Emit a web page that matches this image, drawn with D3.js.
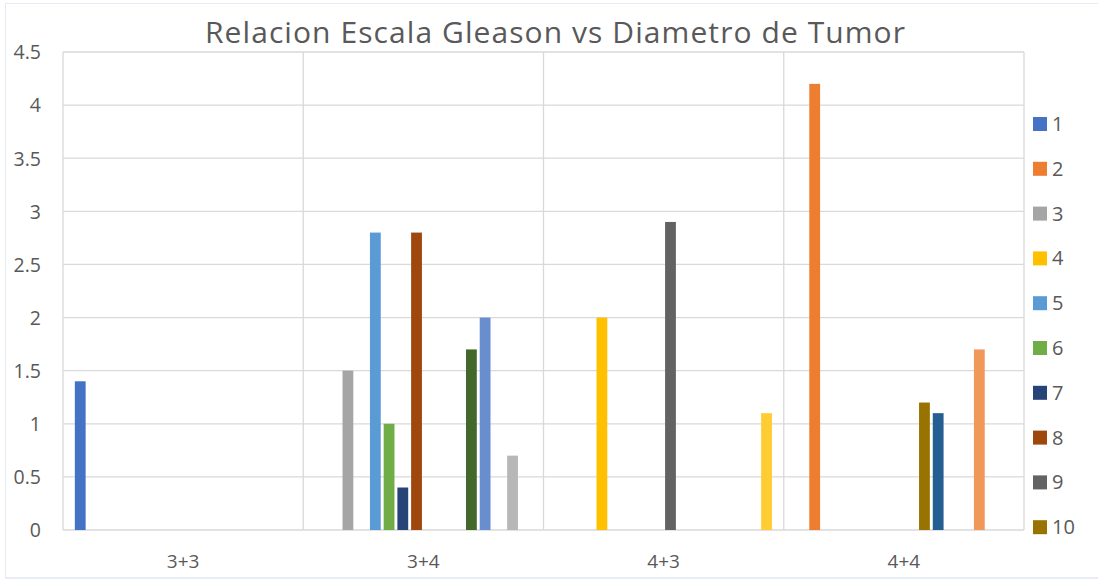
<!DOCTYPE html>
<html>
<head>
<meta charset="utf-8">
<script src="https://cdn.jsdelivr.net/npm/d3@7"></script>
<style>
  html, body { margin: 0; padding: 0; background: #fff; }
  svg { display: block; font-family: "Open Sans", "Noto Sans", sans-serif; }
</style>
</head>
<body>
<svg id="chart" width="1098" height="579"></svg>
<script>
// Gleason score groups on the x axis
const categories = ["3+3", "3+4", "4+3", "4+4"];
// One series per patient (legend entries 1..16)
const seriesNames = ["1","2","3","4","5","6","7","8","9","10","11","12","13","14","15","16"];
// Tumour diameter per series, one array per Gleason group (null = no bar)
const values33 = [1.4, null, null, null, null, null, null, null, null, null, null, null, null, null, null, null];
const values34 = [null, null, 1.5, null, 2.8, 1.0, 0.4, 2.8, null, null, null, 1.7, 2.0, null, 0.7, null];
const values43 = [null, null, null, 2.0, null, null, null, null, 2.9, null, null, null, null, null, null, 1.1];
const values44 = [null, 4.2, null, null, null, null, null, null, null, 1.2, 1.1, null, null, 1.7, null, null];
const yTicks = [0, 0.5, 1, 1.5, 2, 2.5, 3, 3.5, 4, 4.5];
const seriesColors = ["#4472C4","#ED7D31","#A5A5A5","#FFC000","#5B9BD5","#70AD47","#264478","#9E480E",
                      "#636363","#997300","#255E91","#43682B","#698ED0","#F1975A","#B7B7B7","#FFCD33"];

const valuesByCategory = [values33, values34, values43, values44];

const svg = d3.select("#chart");
const W = 1098, H = 579;
const plot = { left: 63, right: 1024, top: 52, bottom: 530 };

// chart frame
svg.append("rect")
  .attr("x", 5.5).attr("y", 3.5).attr("width", W - 5).attr("height", 574.5)
  .attr("fill", "#fff").attr("stroke", "#E6EBF4").attr("stroke-width", 1);
svg.append("line")
  .attr("x1", 5.5).attr("x2", W).attr("y1", 578).attr("y2", 578)
  .attr("stroke", "#DCE3F1").attr("stroke-width", 1.2);

const x0 = d3.scaleBand().domain(categories).range([plot.left, plot.right]).padding(0);
// clustered layout: gap width 219%, overlap -27%
const x1 = d3.scaleBand().domain(seriesNames).range([0, x0.bandwidth()])
  .paddingInner(0.27 / 1.27).paddingOuter(1.095 / 1.27);
const y = d3.scaleLinear().domain([0, 4.5]).range([plot.bottom, plot.top]);

// horizontal gridlines
svg.append("g").selectAll("line").data(yTicks).join("line")
  .attr("x1", plot.left).attr("x2", plot.right)
  .attr("y1", d => y(d)).attr("y2", d => y(d))
  .attr("stroke", "#D9D9D9").attr("stroke-width", 1.3);

// vertical gridlines at category boundaries
const bounds = categories.map(c => x0(c)).concat([plot.right]);
svg.append("g").selectAll("line").data(bounds).join("line")
  .attr("x1", d => d).attr("x2", d => d)
  .attr("y1", plot.top).attr("y2", plot.bottom)
  .attr("stroke", "#D9D9D9").attr("stroke-width", 1.3);

// bars
const barData = [];
categories.forEach((c, ci) => {
  valuesByCategory[ci].forEach((v, si) => {
    if (v != null) barData.push({ cat: c, series: seriesNames[si], color: seriesColors[si], value: v });
  });
});
svg.append("g").selectAll("rect").data(barData).join("rect")
  .attr("x", d => x0(d.cat) + x1(d.series))
  .attr("width", x1.bandwidth())
  .attr("y", d => y(d.value))
  .attr("height", d => y(0) - y(d.value))
  .attr("fill", d => d.color);

// y axis labels
const yAxis = d3.axisLeft(y).tickValues(yTicks).tickSize(0).tickPadding(0).tickFormat(d3.format("~g"));
const gy = svg.append("g").attr("transform", "translate(41,0)").call(yAxis);
gy.select(".domain").remove();
gy.selectAll("text").attr("fill", "#595959").attr("font-size", 19.5)
  .attr("font-family", "\"Open Sans\", sans-serif").attr("dy", "0.35em");

// x axis labels
const xAxis = d3.axisBottom(x0).tickSize(0).tickPadding(0);
const gx = svg.append("g").attr("transform", `translate(0,${plot.bottom})`).call(xAxis);
gx.select(".domain").remove();
gx.selectAll("text").attr("fill", "#595959").attr("font-size", 19)
  .attr("font-family", "\"Open Sans\", sans-serif").attr("dy", 38);

// title
svg.append("text")
  .attr("x", 555).attr("y", 43)
  .attr("text-anchor", "middle")
  .attr("fill", "#595959").attr("font-size", 30)
  .attr("textLength", 700).attr("lengthAdjust", "spacing")
  .text("Relacion Escala Gleason vs Diametro de Tumor");

// legend: only the entries that fit inside the chart area are shown
const legendY = d3.scalePoint().domain(seriesNames).range([124, 124 + 44.8 * 15]);
const shown = seriesNames.filter(d => legendY(d) + 10 < 548);
const items = svg.append("g").selectAll("g").data(shown).join("g")
  .attr("transform", d => `translate(1033,${legendY(d)})`);
items.append("rect").attr("x", 0).attr("y", -7).attr("width", 14).attr("height", 14)
  .attr("fill", (d, i) => seriesColors[i]);
items.append("text").attr("x", 19).attr("y", 0).attr("dy", "0.35em")
  .attr("fill", "#595959").attr("font-size", 20).text(d => d);
</script>
</body>
</html>
